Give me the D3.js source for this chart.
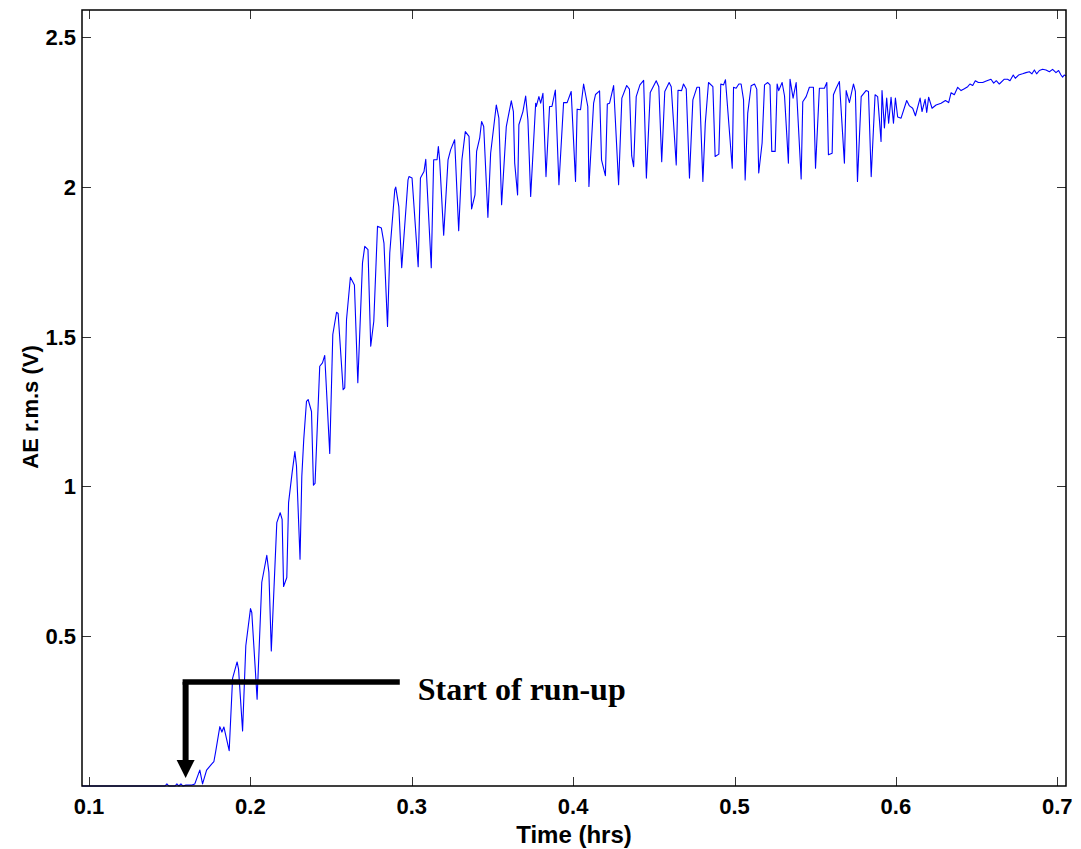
<!DOCTYPE html>
<html><head><meta charset="utf-8">
<script src="https://cdn.jsdelivr.net/npm/d3@7"></script>
<style>
html,body{margin:0;padding:0;background:#fff;}
svg{display:block;}
</style></head>
<body>
<svg id="chart" width="1081" height="849"></svg>
<script>
// ---- data ----
const timeHrs = [0.0957,0.1471,0.1483,0.1495,0.1533,0.1545,0.1557,0.157,0.1582,0.1601,0.1638,0.1656,0.1687,0.1704,0.1729,0.176,0.1774,0.1785,0.1811,0.1824,0.1836,0.1869,0.189,0.1918,0.1927,0.1952,0.1972,0.2001,0.2009,0.2042,0.2071,0.2102,0.2115,0.213,0.2164,0.2185,0.2197,0.2206,0.2226,0.2237,0.2259,0.2276,0.2286,0.2308,0.2319,0.2331,0.2348,0.2358,0.2379,0.2391,0.2401,0.243,0.2447,0.2461,0.2492,0.2511,0.2534,0.2544,0.2575,0.2585,0.2596,0.262,0.2645,0.2666,0.2695,0.2709,0.2729,0.2746,0.2765,0.2788,0.2812,0.2828,0.285,0.2864,0.2895,0.2901,0.292,0.2938,0.2977,0.2983,0.3002,0.304,0.3054,0.3076,0.3087,0.3121,0.3136,0.3157,0.3165,0.3173,0.3198,0.3225,0.3241,0.3266,0.3291,0.3311,0.3332,0.3355,0.3371,0.3392,0.3402,0.3421,0.3433,0.3446,0.3472,0.3489,0.3524,0.354,0.3557,0.3586,0.3617,0.363,0.3638,0.3656,0.3664,0.3689,0.3706,0.372,0.3737,0.3768,0.3772,0.3788,0.3799,0.3813,0.3832,0.3854,0.3869,0.389,0.3912,0.3941,0.3963,0.3988,0.4015,0.4025,0.4046,0.4065,0.4091,0.4098,0.4127,0.4139,0.4164,0.4176,0.42,0.4212,0.4226,0.4251,0.4282,0.4302,0.4332,0.4349,0.4363,0.4375,0.4391,0.4414,0.4437,0.4454,0.4478,0.4515,0.4531,0.4549,0.4568,0.4595,0.4608,0.4639,0.465,0.4672,0.4684,0.4701,0.4721,0.4742,0.4767,0.4783,0.4804,0.4819,0.4839,0.4866,0.488,0.4903,0.4915,0.4932,0.4944,0.4986,0.4994,0.501,0.5027,0.5041,0.5056,0.5066,0.5082,0.5103,0.5124,0.5138,0.515,0.5171,0.5186,0.5206,0.522,0.5231,0.5252,0.5264,0.5274,0.5295,0.531,0.5334,0.5344,0.5363,0.5382,0.5413,0.5423,0.5444,0.5464,0.5489,0.5502,0.5526,0.5557,0.5572,0.5582,0.5605,0.5613,0.563,0.565,0.5681,0.5692,0.5712,0.5737,0.5749,0.5762,0.5785,0.5815,0.583,0.5847,0.5871,0.5887,0.5908,0.5914,0.5929,0.5943,0.5955,0.597,0.5985,0.5997,0.6011,0.6032,0.6067,0.6084,0.6104,0.6121,0.615,0.6162,0.6181,0.6191,0.6203,0.6224,0.6249,0.628,0.6307,0.6327,0.6342,0.6362,0.6383,0.6404,0.6424,0.6445,0.6459,0.6476,0.6492,0.6511,0.6538,0.656,0.6589,0.6606,0.6622,0.6641,0.6672,0.6692,0.6707,0.6727,0.674,0.676,0.6785,0.6806,0.6827,0.6843,0.6858,0.6872,0.6889,0.6909,0.693,0.6951,0.6971,0.6992,0.7008,0.7023,0.7033,0.7043,0.7054];
const aeRms = [0,0,0.007,0,0,0.007,0,0.007,0,0.003,0.003,0.007,0.053,0.007,0.053,0.073,0.081,0.114,0.198,0.18,0.197,0.118,0.359,0.414,0.39,0.184,0.468,0.592,0.579,0.29,0.68,0.77,0.713,0.451,0.879,0.912,0.89,0.666,0.696,0.946,1.046,1.116,1.068,0.757,1.034,1.157,1.284,1.29,1.25,1.004,1.01,1.401,1.412,1.437,1.11,1.507,1.581,1.577,1.323,1.329,1.557,1.698,1.672,1.346,1.746,1.801,1.79,1.468,1.551,1.868,1.862,1.812,1.534,1.779,1.99,1.999,1.934,1.73,2.023,2.034,2.029,1.733,2.029,2.051,2.092,1.73,2.09,2.09,2.134,2.09,1.838,2.09,2.123,2.157,1.853,2.09,2.184,2.168,1.926,1.973,2.118,2.162,2.218,2.201,1.898,2.112,2.273,2.229,1.94,2.201,2.287,2.251,2.079,1.973,2.207,2.251,2.303,2.223,1.968,2.279,2.268,2.301,2.279,2.312,2.034,2.268,2.268,2.323,2.007,2.281,2.281,2.318,2.018,2.259,2.257,2.343,2.268,2.001,2.279,2.308,2.32,2.09,2.037,2.276,2.279,2.338,2.007,2.296,2.338,2.326,2.103,2.067,2.301,2.34,2.355,2.029,2.315,2.354,2.334,2.084,2.318,2.348,2.334,2.073,2.322,2.321,2.343,2.326,2.029,2.29,2.332,2.332,2.018,2.212,2.348,2.334,2.101,2.109,2.343,2.34,2.357,2.062,2.332,2.329,2.343,2.343,2.29,2.023,2.246,2.337,2.343,2.326,2.046,2.146,2.34,2.348,2.34,2.118,2.118,2.343,2.321,2.348,2.303,2.079,2.359,2.296,2.348,2.026,2.284,2.301,2.332,2.332,2.062,2.329,2.329,2.348,2.107,2.112,2.307,2.329,2.351,2.079,2.321,2.281,2.343,2.318,2.018,2.301,2.321,2.318,2.034,2.307,2.301,2.151,2.321,2.196,2.296,2.212,2.299,2.212,2.296,2.233,2.229,2.288,2.27,2.262,2.237,2.296,2.251,2.292,2.248,2.299,2.262,2.273,2.279,2.288,2.281,2.314,2.307,2.332,2.321,2.327,2.334,2.343,2.338,2.354,2.348,2.348,2.353,2.359,2.346,2.354,2.343,2.359,2.359,2.354,2.373,2.362,2.373,2.377,2.381,2.384,2.377,2.39,2.377,2.388,2.392,2.39,2.384,2.392,2.381,2.388,2.373,2.366,2.373,2.37];
const xTicks = [0.1,0.2,0.3,0.4,0.5,0.6,0.7];
const xTickLabels = ["0.1","0.2","0.3","0.4","0.5","0.6","0.7"];
const yTicks = [0.5,1,1.5,2,2.5];
const yTickLabels = ["0.5","1","1.5","2","2.5"];
const xDomain = [0.0957,0.7054];
const yDomain = [0,2.59];
const xLabel = "Time (hrs)";
const yLabel = "AE r.m.s (V)";
// annotation (data units)
const annotText = "Start of run-up";
const annotCorner = [0.1599,0.347];
const annotLineEnd = 0.2926;
const annotArrowTip = 0.027;
const annotTextPos = [0.3037,0.29];

// ---- layout ----
const svg = d3.select("#chart");
const L = 82, R = 1066, T = 10, B = 786;
const x = d3.scaleLinear().domain(xDomain).range([L, R]);
const y = d3.scaleLinear().domain(yDomain).range([B, T]);
const fontSans = "'Liberation Sans', Arial, Helvetica, sans-serif";
const tickLen = 9;

// data line
const pts = timeHrs.map((t,i)=>[t, aeRms[i]]);
svg.append("path")
  .datum(pts)
  .attr("fill","none")
  .attr("stroke","#0000ff")
  .attr("stroke-width",1.1)
  .attr("stroke-linejoin","round")
  .attr("d", d3.line().x(d=>x(d[0])).y(d=>y(d[1])));

// ticks (inward, all four sides)
const tg = svg.append("g").attr("stroke","#333").attr("stroke-width",1);
xTicks.forEach(v=>{
  const px = Math.round(x(v))+0.5;
  tg.append("line").attr("x1",px).attr("x2",px).attr("y1",B).attr("y2",B-tickLen);
  tg.append("line").attr("x1",px).attr("x2",px).attr("y1",T).attr("y2",T+tickLen);
});
yTicks.forEach(v=>{
  const py = Math.round(y(v))+0.5;
  tg.append("line").attr("x1",L).attr("x2",L+tickLen).attr("y1",py).attr("y2",py);
  tg.append("line").attr("x1",R).attr("x2",R-tickLen).attr("y1",py).attr("y2",py);
});

// frame
svg.append("rect").attr("x",L).attr("y",T).attr("width",R-L).attr("height",B-T)
  .attr("fill","none").attr("stroke","#000").attr("stroke-width",1.5);

// tick labels
svg.append("g").selectAll("text").data(xTicks).join("text")
  .attr("x",d=>x(d)).attr("y",B+28)
  .attr("text-anchor","middle")
  .attr("font-family",fontSans).attr("font-weight","bold").attr("font-size",22)
  .text((d,i)=>xTickLabels[i]);
svg.append("g").selectAll("text").data(yTicks).join("text")
  .attr("x",L-6).attr("y",d=>y(d)+8)
  .attr("text-anchor","end")
  .attr("font-family",fontSans).attr("font-weight","bold").attr("font-size",22)
  .text((d,i)=>yTickLabels[i]);

// axis labels
svg.append("text").attr("x",(L+R)/2).attr("y",843)
  .attr("text-anchor","middle")
  .attr("font-family",fontSans).attr("font-weight","bold").attr("font-size",24)
  .text(xLabel);
svg.append("text")
  .attr("transform",`translate(38,${(T+B)/2+9}) rotate(-90)`)
  .attr("text-anchor","middle")
  .attr("font-family",fontSans).attr("font-weight","bold").attr("font-size",22)
  .text(yLabel);

// annotation
const cx = x(annotCorner[0]), cy = y(annotCorner[1]);
svg.append("line").attr("x1",cx-3).attr("x2",x(annotLineEnd)).attr("y1",cy).attr("y2",cy)
  .attr("stroke","#000").attr("stroke-width",5.5);
const tipY = y(annotArrowTip);
svg.append("line").attr("x1",cx).attr("x2",cx).attr("y1",cy).attr("y2",tipY-16)
  .attr("stroke","#000").attr("stroke-width",6);
svg.append("path")
  .attr("d",`M${cx-9},${tipY-18} L${cx+9},${tipY-18} L${cx},${tipY} Z`)
  .attr("fill","#000");
svg.append("text").attr("x",x(annotTextPos[0])).attr("y",y(annotTextPos[1])+1)
  .attr("font-family","'Liberation Serif','Times New Roman',serif")
  .attr("font-weight","bold").attr("font-size",32)
  .text(annotText);
</script>
</body></html>
